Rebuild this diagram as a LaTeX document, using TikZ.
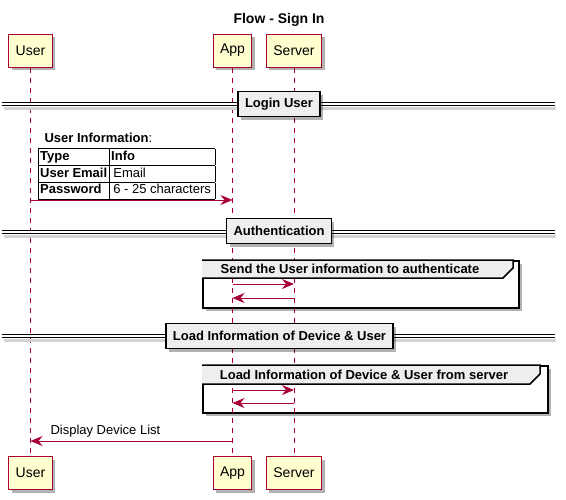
\documentclass[tikz,border=0pt]{standalone}
\usepackage{fontspec}
\setmainfont{Liberation Sans}
\usetikzlibrary{arrows.meta,shadows,calc}

\definecolor{umlred}{HTML}{A80036}
\definecolor{umlfill}{HTML}{FEFECE}
\definecolor{umlgray}{HTML}{EEEEEE}

\tikzset{
  softshadow/.style={drop shadow={shadow xshift=3pt, shadow yshift=-3pt, opacity=0.3, fill=black}},
  actor/.style={draw=umlred, fill=umlfill, line width=1pt, minimum height=33pt,
    inner xsep=7pt, font=\fontsize{14}{16}\selectfont, softshadow},
  lifeline/.style={umlred, line width=0.8pt, dash pattern=on 5pt off 5pt},
  msg/.style={umlred, line width=1pt, -{Stealth[length=12pt,width=10pt,inset=4pt]}},
  divbox/.style={draw, fill=umlgray, line width=1.5pt, minimum height=25pt,
    inner xsep=7pt, font=\bfseries\fontsize{13}{16}\selectfont, softshadow},
  divline/.style={line width=1pt, double distance=1.8pt},
  groupframe/.style={draw, fill=white, line width=1.5pt, anchor=north west, inner sep=0pt, softshadow},
  grouptab/.style={draw, fill=umlgray, line width=1.5pt},
  grouplbl/.style={font=\bfseries\fontsize{13}{16}\selectfont},
  msglbl/.style={font=\fontsize{13}{16}\selectfont}
}

\begin{document}
\begin{tikzpicture}[x=1pt, y=-1pt]
  \useasboundingbox (0,0) rectangle (566,499);

  % title
  \node[font=\bfseries\fontsize{14}{16}\selectfont] (title) at (279,20) {Flow - Sign In};

  % participants
  \node[actor] (userTop) at (30.5,50.5) {User};
  \node[actor] (appTop) at (232.5,50.5) {App};
  \node[actor] (serverTop) at (294,50.5) {Server};
  \node[actor] (userBot) at (30.5,473) {User};
  \node[actor] (appBot) at (232.5,473) {App};
  \node[actor] (serverBot) at (294,473) {Server};

  % group frames (behind the lifelines)
  \node[groupframe, minimum width=316pt, minimum height=47pt] (grpAuth) at (202,260) {};
  \node[groupframe, minimum width=345pt, minimum height=47pt] (grpLoad) at (202,365) {};

  % lifelines
  \draw[lifeline] (userTop) -- (userBot);
  \draw[lifeline] (appTop) -- (appBot);
  \draw[lifeline] (serverTop) -- (serverBot);

  % divider: Login User
  \draw[gray!35, line width=3pt] (4,108) -- (556,108);
  \draw[divline] (2,104) -- (555,104);
  \node[divbox] (divLogin) at (279,104) {Login User};

  % user information table
  \node[anchor=west, msglbl] (infoLbl) at (41,138) {\textbf{User Information}:};
  \node[anchor=north west, inner sep=0pt, font=\fontsize{13}{16}\selectfont] (infoTab) at (38,148)
    {\setlength{\tabcolsep}{2pt}\setlength{\arrayrulewidth}{0.8pt}%
     \begin{tabular}{|p{67pt}|p{102pt}|}\hline
       \textbf{Type} & \textbf{Info}\\\hline
       \textbf{User Email} & \,Email\\\hline
       \textbf{Password} & \,6 - 25 characters\\\hline
     \end{tabular}};
  \draw[msg] (userTop |- 0,200) -- (appTop |- 0,200);

  % divider: Authentication
  \draw[gray!35, line width=3pt] (4,236) -- (556,236);
  \draw[divline] (2,232) -- (555,232);
  \node[divbox] (divAuth) at (279,231) {Authentication};

  % group: authenticate
  \draw[grouptab] (grpAuth.north west) -- ++(311,0) -- ++(0,8) -- ++(-10,10) -- ($(grpAuth.north west)+(0,18)$);
  \node[grouplbl] (grpAuthLbl) at (350,269) {Send the User information to authenticate};
  \draw[msg] (appTop |- 0,284) -- (serverTop |- 0,284);
  \draw[msg] (serverTop |- 0,298) -- (appTop |- 0,298);

  % divider: Load Information
  \draw[gray!35, line width=3pt] (4,340) -- (556,340);
  \draw[divline] (2,336) -- (555,336);
  \node[divbox] (divLoad) at (279.5,336) {Load Information of Device \& User};

  % group: load from server
  \draw[grouptab] (grpLoad.north west) -- ++(338,0) -- ++(0,9) -- ++(-10,10) -- ($(grpLoad.north west)+(0,19)$);
  \node[grouplbl] (grpLoadLbl) at (364,374.5) {Load Information of Device \& User from server};
  \draw[msg] (appTop |- 0,390) -- (serverTop |- 0,390);
  \draw[msg] (serverTop |- 0,403) -- (appTop |- 0,403);

  % reply to user
  \draw[msg] (appTop |- 0,441) -- (userTop |- 0,441);
  \node[anchor=west, msglbl] (dispLbl) at (47,431) {Display Device List};
\end{tikzpicture}
\end{document}
